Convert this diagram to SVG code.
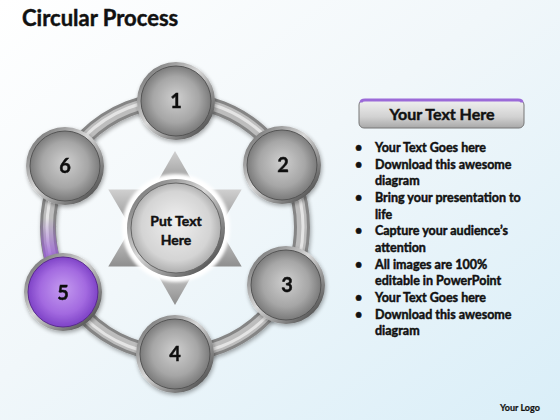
<svg xmlns="http://www.w3.org/2000/svg" width="560" height="420" viewBox="0 0 560 420">
<defs>
<linearGradient id="bg" x1="0" y1="0" x2="1" y2="1">
<stop offset="0" stop-color="#ffffff"/>
<stop offset="0.45" stop-color="#f1f7fa"/>
<stop offset="1" stop-color="#d9eef8"/>
</linearGradient>
<radialGradient id="sphere" cx="0.5" cy="0.5" r="0.55" fx="0.5" fy="0.45">
<stop offset="0" stop-color="#cfcfcf"/>
<stop offset="0.6" stop-color="#a6a6a6"/>
<stop offset="1" stop-color="#6e6e6e"/>
</radialGradient>
<radialGradient id="spherePurple" cx="0.5" cy="0.5" r="0.55" fx="0.5" fy="0.45">
<stop offset="0" stop-color="#c49af0"/>
<stop offset="0.6" stop-color="#a36ae0"/>
<stop offset="1" stop-color="#7438c0"/>
</radialGradient>
<radialGradient id="centerG" cx="0.5" cy="0.5" r="0.55" fx="0.5" fy="0.42">
<stop offset="0" stop-color="#f0f0f0"/>
<stop offset="0.7" stop-color="#d4d4d4"/>
<stop offset="1" stop-color="#a0a0a0"/>
</radialGradient>
<linearGradient id="rim" x1="0" y1="0" x2="1" y2="1">
<stop offset="0" stop-color="#5a5a5a"/>
<stop offset="0.45" stop-color="#d8d8d8"/>
<stop offset="1" stop-color="#2e2e2e"/>
</linearGradient>
<linearGradient id="tri" x1="0" y1="0" x2="0" y2="1">
<stop offset="0" stop-color="#d0d0d0"/>
<stop offset="1" stop-color="#8e8e8e"/>
</linearGradient>
<linearGradient id="hdr" x1="0" y1="0" x2="0" y2="1">
<stop offset="0" stop-color="#f0f0f0"/>
<stop offset="0.6" stop-color="#d2d2d2"/>
<stop offset="1" stop-color="#a8a8a8"/>
</linearGradient>
<linearGradient id="purpleFade" x1="0" y1="0" x2="0" y2="1">
<stop offset="0" stop-color="#9b5fd8" stop-opacity="0"/>
<stop offset="1" stop-color="#9b5fd8" stop-opacity="0.85"/>
</linearGradient>
<filter id="sh" x="-20%" y="-20%" width="140%" height="140%">
<feGaussianBlur in="SourceAlpha" stdDeviation="2"/>
<feOffset dx="1" dy="2" result="b"/>
<feComponentTransfer><feFuncA type="linear" slope="0.35"/></feComponentTransfer>
<feMerge><feMergeNode/><feMergeNode in="SourceGraphic"/></feMerge>
</filter>
<filter id="glow" x="-20%" y="-20%" width="140%" height="140%">
<feGaussianBlur stdDeviation="1.5"/>
</filter>
</defs>
<style>
.t{font-family:Lato,"Liberation Sans",sans-serif;font-weight:700;fill:#111;stroke:#111;stroke-width:0.45}
.num{font-size:20px;text-anchor:middle}
.bul{font-size:12.5px}
.node-rim{fill:url(#rim)}
</style>
<rect width="560" height="420" fill="url(#bg)"/>
<text class="t" x="22" y="26" font-size="22">Circular Process</text>

<g id="connectors">
<circle cx="175" cy="227" r="127" fill="none" stroke="#858585" stroke-width="16" filter="url(#sh)"/>
<circle cx="175" cy="227" r="127" fill="none" stroke="#bdbdbd" stroke-width="10"/>
<circle cx="175" cy="227" r="128" fill="none" stroke="#e4e4e4" stroke-width="3"/>
<path d="M48,218 A127,127 0 0 0 52,258" fill="none" stroke="url(#purpleFade)" stroke-width="15"/>
</g>

<g id="star">
<polygon points="175,151 197,189.5 153,189.5" fill="url(#tri)"/>
<polygon points="108.3,189.5 153,189.5 131,228" fill="url(#tri)"/>
<polygon points="241.7,189.5 219,228 197,189.5" fill="url(#tri)"/>
<polygon points="108.3,266.5 131,228 153,266.5" fill="url(#tri)"/>
<polygon points="241.7,266.5 197,266.5 219,228" fill="url(#tri)"/>
<polygon points="175,305 153,266.5 197,266.5" fill="url(#tri)"/>
</g>

<g id="center">
<circle cx="176" cy="228" r="54" fill="#ffffff" filter="url(#glow)"/>
<circle cx="176" cy="228" r="49" class="node-rim"/>
<circle cx="176" cy="228" r="45" fill="url(#centerG)" stroke="#666" stroke-width="1"/>
<text class="t" x="176" y="226" font-size="14" text-anchor="middle">Put Text</text>
<text class="t" x="176" y="245" font-size="14" text-anchor="middle">Here</text>
</g>

<g id="node1" filter="url(#sh)">
<circle cx="176" cy="101" r="39" class="node-rim"/>
<circle cx="176" cy="101" r="35" fill="url(#sphere)" stroke="#555" stroke-width="1"/>
<text class="t num" x="176" y="108">1</text>
</g>
<g id="node2" filter="url(#sh)">
<circle cx="282" cy="165" r="39" class="node-rim"/>
<circle cx="282" cy="165" r="35" fill="url(#sphere)" stroke="#555" stroke-width="1"/>
<text class="t num" x="283" y="172">2</text>
</g>
<g id="node3" filter="url(#sh)">
<circle cx="286" cy="285" r="39" class="node-rim"/>
<circle cx="286" cy="285" r="35" fill="url(#sphere)" stroke="#555" stroke-width="1"/>
<text class="t num" x="287" y="292">3</text>
</g>
<g id="node4" filter="url(#sh)">
<circle cx="175" cy="354" r="39" class="node-rim"/>
<circle cx="175" cy="354" r="35" fill="url(#sphere)" stroke="#555" stroke-width="1"/>
<text class="t num" x="175" y="361">4</text>
</g>
<g id="node5" filter="url(#sh)">
<circle cx="63" cy="292" r="39" class="node-rim"/>
<circle cx="63" cy="292" r="35" fill="url(#spherePurple)" stroke="#5a2a90" stroke-width="1"/>
<text class="t num" x="63" y="300">5</text>
</g>
<g id="node6" filter="url(#sh)">
<circle cx="65" cy="166" r="39" class="node-rim"/>
<circle cx="65" cy="166" r="35" fill="url(#sphere)" stroke="#555" stroke-width="1"/>
<text class="t num" x="65" y="173">6</text>
</g>

<g id="header">
<rect x="359" y="100" width="165" height="28" rx="5" fill="url(#hdr)" stroke="#777" stroke-width="1"/>
<path d="M361,102.5 Q361,100 365,100 H518 Q522,100 522,102.5" fill="none" stroke="#9b6ad8" stroke-width="3"/>
<text class="t" x="442" y="120" font-size="16" text-anchor="middle">Your Text Here</text>
</g>

<g id="bullets" class="t bul">
<text x="355" y="152">•</text><text x="375" y="152">Your Text Goes here</text>
<text x="355" y="169">•</text><text x="375" y="169">Download this awesome</text>
<text x="375" y="185">diagram</text>
<text x="355" y="202">•</text><text x="375" y="202">Bring your presentation to</text>
<text x="375" y="219">life</text>
<text x="355" y="235">•</text><text x="375" y="235">Capture your audience’s</text>
<text x="375" y="252">attention</text>
<text x="355" y="269">•</text><text x="375" y="269">All images are 100%</text>
<text x="375" y="285">editable in PowerPoint</text>
<text x="355" y="302">•</text><text x="375" y="302">Your Text Goes here</text>
<text x="355" y="319">•</text><text x="375" y="319">Download this awesome</text>
<text x="375" y="335">diagram</text>
</g>

<text class="t" x="500" y="411" font-size="9" style="stroke-width:0.2">Your Logo</text>
</svg>
